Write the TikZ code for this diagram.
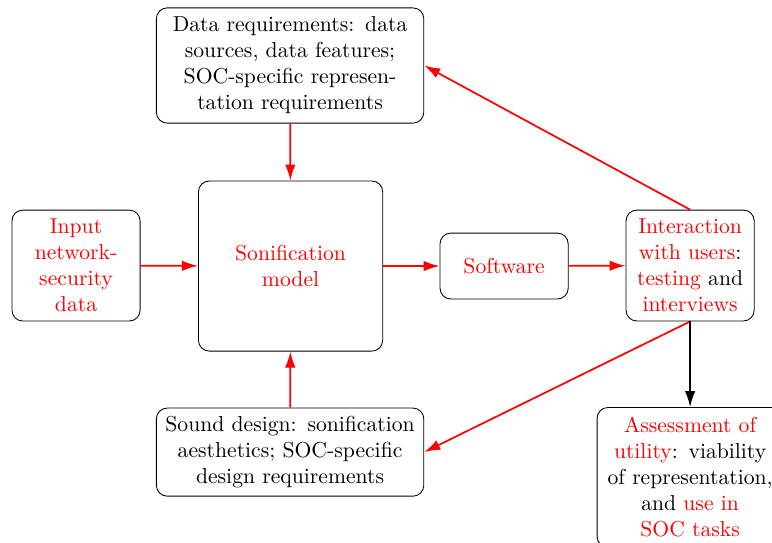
\documentclass[tikz,border=0pt]{standalone}
\usepackage{xcolor}
\usetikzlibrary{arrows.meta}

\tikzset{
	block/.style={draw,rounded corners=5pt,align=center,inner sep=2pt},
	flow/.style={red,thick,-{Latex[length=2.6mm,width=1.7mm]}},
}

\begin{document}
\begin{tikzpicture}
			\useasboundingbox (0,0) rectangle (12.53,-8.80);
			\node[block,text width=4.2cm,minimum height=1.87cm] (req) at (4.708,-1.063) {Data requirements: data\\ sources, data features;\\ SOC-specific represen-\\tation requirements};
			\node[block,red,draw=black,text width=2.85cm,minimum height=2.76cm] (model) at (4.716,-4.318) {Sonification\\ model};
			\node[block,red,draw=black,text width=1.94cm,minimum height=1.80cm] (input) at (1.234,-4.310) {Input\\ network-\\ security\\ data};
			\node[block,red,draw=black,text width=1.94cm,minimum height=1.07cm] (soft) at (8.182,-4.318) {Software};
			\node[block,text width=1.94cm,minimum height=1.80cm] (users) at (11.201,-4.310) {\textcolor{red}{Interaction}\\ \textcolor{red}{with users}:\\ \textcolor{red}{testing} and\\ \textcolor{red}{interviews}};
			\node[block,text width=4.2cm,minimum height=1.43cm] (sound) at (4.708,-7.338) {Sound design: sonification\\ aesthetics; SOC-specific\\ design requirements};
			\node[block,anchor=north,text width=2.88cm,inner ysep=4.6pt] (util) at (11.201,-6.607) {\textcolor{red}{Assessment of}\\ \textcolor{red}{utility}: viability\\ of representation,\\ and \textcolor{red}{use in}\\ \textcolor{red}{SOC tasks}};
			% arrows
			\draw[flow] (req)--(model);
			\draw[flow] (input)--(model);
			\draw[flow] (sound)--(model);
			\draw[flow] (model)--(soft);
			\draw[flow] (soft)--(users);
			\draw[flow] (users.north)--(req.east);
			\draw[flow] (users.south)--(sound.east);
			\draw[thick,-{Latex[length=2.6mm,width=1.7mm]}] (users.south)--(util.north);
		\end{tikzpicture}
\end{document}
